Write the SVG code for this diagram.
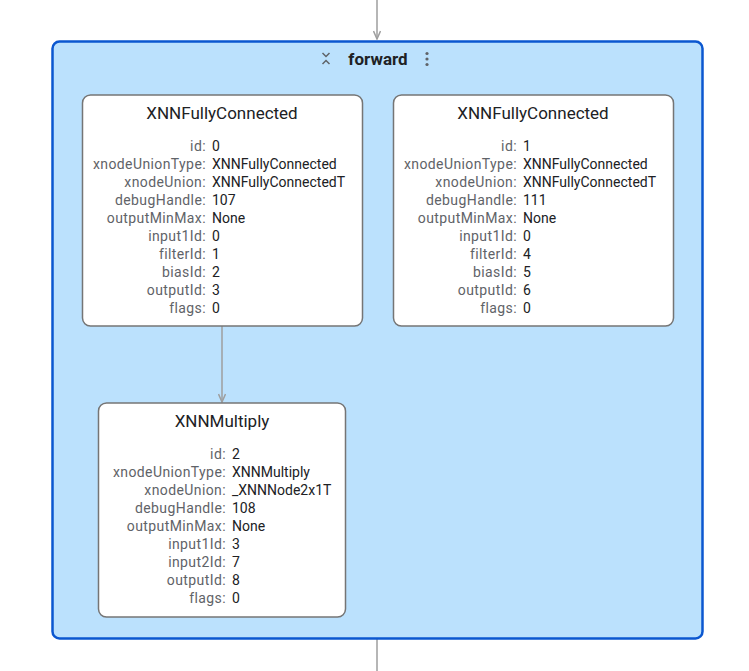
<svg xmlns="http://www.w3.org/2000/svg" width="749" height="671" viewBox="0 0 749 671">
<style>
.grp{fill:#bbe1fd;stroke:#0b57d0;stroke-width:2.5}
.node{fill:#ffffff;stroke:#757575;stroke-width:1.5}
.title{font-family:Roboto,"Liberation Sans",sans-serif;font-size:17px;fill:#202124;text-anchor:middle}
.gtitle{font-family:Roboto,"Liberation Sans",sans-serif;font-size:17px;font-weight:bold;fill:#202124;text-anchor:middle}
.k{font-family:Roboto,"Liberation Sans",sans-serif;font-size:14px;letter-spacing:0.4px;fill:#5f6368;text-anchor:end}
.v{font-family:Roboto,"Liberation Sans",sans-serif;font-size:14px;fill:#202124}
.edge{stroke:#9e9e9e;stroke-width:1.5;fill:none}
.icon{stroke:#5f6368;stroke-width:1.5;fill:none}
</style>
<defs>
<marker id="arr" markerWidth="10" markerHeight="8" refX="9" refY="4" orient="auto" markerUnits="userSpaceOnUse">
<path d="M1,0.5 L9,4 L1,7.5" fill="none" stroke="#9e9e9e" stroke-width="1.5"/>
</marker>
</defs>
<g id="connectors">
<line class="edge" x1="377" y1="0" x2="377" y2="39" marker-end="url(#arr)"/>
<line class="edge" x1="377" y1="639" x2="377" y2="671"/>
</g>
<g id="group-forward">
<rect class="grp" x="52.5" y="41.5" width="650" height="597" rx="7"/>
<path class="icon" d="M322.5,53 L326,56.5 L329.5,53 M322.5,64 L326,60.5 L329.5,64"/>
<text class="gtitle" x="378" y="65">forward</text>
<circle cx="427" cy="53.5" r="1.6" fill="#5f6368"/>
<circle cx="427" cy="59" r="1.6" fill="#5f6368"/>
<circle cx="427" cy="64.5" r="1.6" fill="#5f6368"/>
</g>
<g id="inner-connectors">
<line class="edge" x1="222" y1="326" x2="222" y2="402" marker-end="url(#arr)"/>
</g>
<g id="node-fc0">
<rect class="node" x="82.5" y="95" width="280" height="231" rx="8"/>
<text class="title" x="222" y="119">XNNFullyConnected</text>
<text class="k" x="206" y="150.5">id:</text><text class="v" x="212" y="150.5">0</text>
<text class="k" x="206" y="168.5">xnodeUnionType:</text><text class="v" x="212" y="168.5">XNNFullyConnected</text>
<text class="k" x="206" y="186.5">xnodeUnion:</text><text class="v" x="212" y="186.5">XNNFullyConnectedT</text>
<text class="k" x="206" y="204.5">debugHandle:</text><text class="v" x="212" y="204.5">107</text>
<text class="k" x="206" y="222.5">outputMinMax:</text><text class="v" x="212" y="222.5">None</text>
<text class="k" x="206" y="240.5">input1Id:</text><text class="v" x="212" y="240.5">0</text>
<text class="k" x="206" y="258.5">filterId:</text><text class="v" x="212" y="258.5">1</text>
<text class="k" x="206" y="276.5">biasId:</text><text class="v" x="212" y="276.5">2</text>
<text class="k" x="206" y="294.5">outputId:</text><text class="v" x="212" y="294.5">3</text>
<text class="k" x="206" y="312.5">flags:</text><text class="v" x="212" y="312.5">0</text>
</g>
<g id="node-fc1">
<rect class="node" x="393.5" y="95" width="280" height="231" rx="8"/>
<text class="title" x="533" y="119">XNNFullyConnected</text>
<text class="k" x="517" y="150.5">id:</text><text class="v" x="523" y="150.5">1</text>
<text class="k" x="517" y="168.5">xnodeUnionType:</text><text class="v" x="523" y="168.5">XNNFullyConnected</text>
<text class="k" x="517" y="186.5">xnodeUnion:</text><text class="v" x="523" y="186.5">XNNFullyConnectedT</text>
<text class="k" x="517" y="204.5">debugHandle:</text><text class="v" x="523" y="204.5">111</text>
<text class="k" x="517" y="222.5">outputMinMax:</text><text class="v" x="523" y="222.5">None</text>
<text class="k" x="517" y="240.5">input1Id:</text><text class="v" x="523" y="240.5">0</text>
<text class="k" x="517" y="258.5">filterId:</text><text class="v" x="523" y="258.5">4</text>
<text class="k" x="517" y="276.5">biasId:</text><text class="v" x="523" y="276.5">5</text>
<text class="k" x="517" y="294.5">outputId:</text><text class="v" x="523" y="294.5">6</text>
<text class="k" x="517" y="312.5">flags:</text><text class="v" x="523" y="312.5">0</text>
</g>
<g id="node-mul">
<rect class="node" x="98.5" y="403" width="247" height="214" rx="8"/>
<text class="title" x="222" y="427">XNNMultiply</text>
<text class="k" x="226" y="459">id:</text><text class="v" x="232" y="459">2</text>
<text class="k" x="226" y="477">xnodeUnionType:</text><text class="v" x="232" y="477">XNNMultiply</text>
<text class="k" x="226" y="495">xnodeUnion:</text><text class="v" x="232" y="495">_XNNNode2x1T</text>
<text class="k" x="226" y="513">debugHandle:</text><text class="v" x="232" y="513">108</text>
<text class="k" x="226" y="531">outputMinMax:</text><text class="v" x="232" y="531">None</text>
<text class="k" x="226" y="549">input1Id:</text><text class="v" x="232" y="549">3</text>
<text class="k" x="226" y="567">input2Id:</text><text class="v" x="232" y="567">7</text>
<text class="k" x="226" y="585">outputId:</text><text class="v" x="232" y="585">8</text>
<text class="k" x="226" y="603">flags:</text><text class="v" x="232" y="603">0</text>
</g>
</svg>
